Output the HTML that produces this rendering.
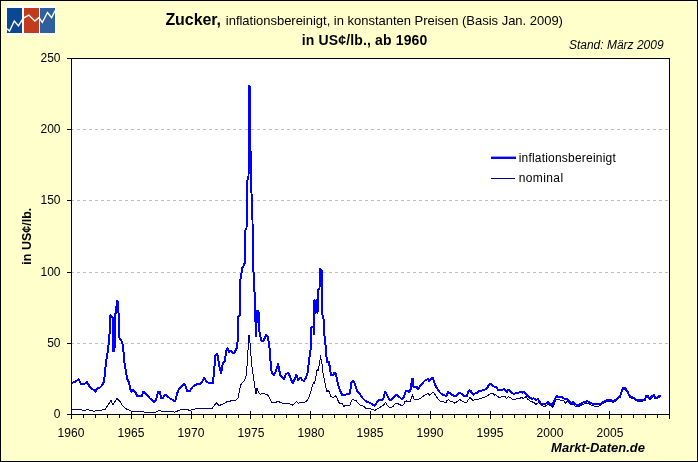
<!DOCTYPE html>
<html><head><meta charset="utf-8"><style>
html,body{margin:0;padding:0;background:#FFFFCC;}
body{width:698px;height:462px;overflow:hidden;font-family:"Liberation Sans", sans-serif;}
svg{display:block;will-change:transform;}
</style></head><body>
<svg width="698" height="462" viewBox="0 0 698 462" font-family='"Liberation Sans", sans-serif'><rect x="0.5" y="0.5" width="697" height="461" fill="#FFFFCC" stroke="#000" stroke-width="1"/>
<rect x="5" y="5" width="51" height="30" fill="#fff"/>
<rect x="7" y="8" width="15" height="25" fill="#0B4893"/>
<rect x="24" y="8" width="15" height="25" fill="#C23B1C"/>
<rect x="40" y="8" width="15" height="25" fill="#2F5F9F"/>
<polyline points="7.2,28.8 9.5,31.1 14.3,21 18.4,25.9 22.9,18.8 24.2,17.7 28.8,15.1 34.8,21 39,17.6 42.3,22.5 47.5,12.5 51.6,17.7 55,10.8" fill="none" stroke="#fff" stroke-width="1.4" stroke-linejoin="miter"/>
<rect x="71.5" y="58.5" width="598" height="356" fill="#fff" stroke="#000" stroke-width="1"/>
<line x1="71" y1="343.5" x2="669" y2="343.5" stroke="#C0C0C0" stroke-width="1" stroke-dasharray="3,3"/>
<line x1="71" y1="272.5" x2="669" y2="272.5" stroke="#C0C0C0" stroke-width="1" stroke-dasharray="3,3"/>
<line x1="71" y1="200.5" x2="669" y2="200.5" stroke="#C0C0C0" stroke-width="1" stroke-dasharray="3,3"/>
<line x1="71" y1="129.5" x2="669" y2="129.5" stroke="#C0C0C0" stroke-width="1" stroke-dasharray="3,3"/>
<line x1="67" y1="414.5" x2="71" y2="414.5" stroke="#000" stroke-width="1"/>
<text x="60.5" y="417.9" text-anchor="end" font-size="12">0</text>
<line x1="67" y1="343.5" x2="71" y2="343.5" stroke="#000" stroke-width="1"/>
<text x="60.5" y="346.9" text-anchor="end" font-size="12">50</text>
<line x1="67" y1="272.5" x2="71" y2="272.5" stroke="#000" stroke-width="1"/>
<text x="60.5" y="275.9" text-anchor="end" font-size="12">100</text>
<line x1="67" y1="200.5" x2="71" y2="200.5" stroke="#000" stroke-width="1"/>
<text x="60.5" y="203.9" text-anchor="end" font-size="12">150</text>
<line x1="67" y1="129.5" x2="71" y2="129.5" stroke="#000" stroke-width="1"/>
<text x="60.5" y="132.9" text-anchor="end" font-size="12">200</text>
<line x1="67" y1="58.5" x2="71" y2="58.5" stroke="#000" stroke-width="1"/>
<text x="60.5" y="61.9" text-anchor="end" font-size="12">250</text>
<line x1="71.5" y1="411" x2="71.5" y2="419" stroke="#000" stroke-width="1"/>
<text x="71.0" y="437" text-anchor="middle" font-size="12" letter-spacing="0.1">1960</text>
<line x1="83.5" y1="414" x2="83.5" y2="418" stroke="#000" stroke-width="1"/>
<line x1="95.5" y1="414" x2="95.5" y2="418" stroke="#000" stroke-width="1"/>
<line x1="107.5" y1="414" x2="107.5" y2="418" stroke="#000" stroke-width="1"/>
<line x1="119.5" y1="414" x2="119.5" y2="418" stroke="#000" stroke-width="1"/>
<line x1="131.5" y1="411" x2="131.5" y2="419" stroke="#000" stroke-width="1"/>
<text x="131.0" y="437" text-anchor="middle" font-size="12" letter-spacing="0.1">1965</text>
<line x1="143.5" y1="414" x2="143.5" y2="418" stroke="#000" stroke-width="1"/>
<line x1="155.5" y1="414" x2="155.5" y2="418" stroke="#000" stroke-width="1"/>
<line x1="167.5" y1="414" x2="167.5" y2="418" stroke="#000" stroke-width="1"/>
<line x1="179.5" y1="414" x2="179.5" y2="418" stroke="#000" stroke-width="1"/>
<line x1="191.5" y1="411" x2="191.5" y2="419" stroke="#000" stroke-width="1"/>
<text x="191.0" y="437" text-anchor="middle" font-size="12" letter-spacing="0.1">1970</text>
<line x1="203.5" y1="414" x2="203.5" y2="418" stroke="#000" stroke-width="1"/>
<line x1="215.5" y1="414" x2="215.5" y2="418" stroke="#000" stroke-width="1"/>
<line x1="226.5" y1="414" x2="226.5" y2="418" stroke="#000" stroke-width="1"/>
<line x1="238.5" y1="414" x2="238.5" y2="418" stroke="#000" stroke-width="1"/>
<line x1="250.5" y1="411" x2="250.5" y2="419" stroke="#000" stroke-width="1"/>
<text x="251.0" y="437" text-anchor="middle" font-size="12" letter-spacing="0.1">1975</text>
<line x1="262.5" y1="414" x2="262.5" y2="418" stroke="#000" stroke-width="1"/>
<line x1="274.5" y1="414" x2="274.5" y2="418" stroke="#000" stroke-width="1"/>
<line x1="286.5" y1="414" x2="286.5" y2="418" stroke="#000" stroke-width="1"/>
<line x1="298.5" y1="414" x2="298.5" y2="418" stroke="#000" stroke-width="1"/>
<line x1="310.5" y1="411" x2="310.5" y2="419" stroke="#000" stroke-width="1"/>
<text x="311.0" y="437" text-anchor="middle" font-size="12" letter-spacing="0.1">1980</text>
<line x1="322.5" y1="414" x2="322.5" y2="418" stroke="#000" stroke-width="1"/>
<line x1="334.5" y1="414" x2="334.5" y2="418" stroke="#000" stroke-width="1"/>
<line x1="346.5" y1="414" x2="346.5" y2="418" stroke="#000" stroke-width="1"/>
<line x1="358.5" y1="414" x2="358.5" y2="418" stroke="#000" stroke-width="1"/>
<line x1="370.5" y1="411" x2="370.5" y2="419" stroke="#000" stroke-width="1"/>
<text x="370.0" y="437" text-anchor="middle" font-size="12" letter-spacing="0.1">1985</text>
<line x1="382.5" y1="414" x2="382.5" y2="418" stroke="#000" stroke-width="1"/>
<line x1="394.5" y1="414" x2="394.5" y2="418" stroke="#000" stroke-width="1"/>
<line x1="406.5" y1="414" x2="406.5" y2="418" stroke="#000" stroke-width="1"/>
<line x1="418.5" y1="414" x2="418.5" y2="418" stroke="#000" stroke-width="1"/>
<line x1="430.5" y1="411" x2="430.5" y2="419" stroke="#000" stroke-width="1"/>
<text x="430.0" y="437" text-anchor="middle" font-size="12" letter-spacing="0.1">1990</text>
<line x1="442.5" y1="414" x2="442.5" y2="418" stroke="#000" stroke-width="1"/>
<line x1="454.5" y1="414" x2="454.5" y2="418" stroke="#000" stroke-width="1"/>
<line x1="466.5" y1="414" x2="466.5" y2="418" stroke="#000" stroke-width="1"/>
<line x1="478.5" y1="414" x2="478.5" y2="418" stroke="#000" stroke-width="1"/>
<line x1="490.5" y1="411" x2="490.5" y2="419" stroke="#000" stroke-width="1"/>
<text x="490.0" y="437" text-anchor="middle" font-size="12" letter-spacing="0.1">1995</text>
<line x1="502.5" y1="414" x2="502.5" y2="418" stroke="#000" stroke-width="1"/>
<line x1="514.5" y1="414" x2="514.5" y2="418" stroke="#000" stroke-width="1"/>
<line x1="525.5" y1="414" x2="525.5" y2="418" stroke="#000" stroke-width="1"/>
<line x1="537.5" y1="414" x2="537.5" y2="418" stroke="#000" stroke-width="1"/>
<line x1="549.5" y1="411" x2="549.5" y2="419" stroke="#000" stroke-width="1"/>
<text x="550.0" y="437" text-anchor="middle" font-size="12" letter-spacing="0.1">2000</text>
<line x1="561.5" y1="414" x2="561.5" y2="418" stroke="#000" stroke-width="1"/>
<line x1="573.5" y1="414" x2="573.5" y2="418" stroke="#000" stroke-width="1"/>
<line x1="585.5" y1="414" x2="585.5" y2="418" stroke="#000" stroke-width="1"/>
<line x1="597.5" y1="414" x2="597.5" y2="418" stroke="#000" stroke-width="1"/>
<line x1="609.5" y1="411" x2="609.5" y2="419" stroke="#000" stroke-width="1"/>
<text x="610.0" y="437" text-anchor="middle" font-size="12" letter-spacing="0.1">2005</text>
<line x1="621.5" y1="414" x2="621.5" y2="418" stroke="#000" stroke-width="1"/>
<line x1="633.5" y1="414" x2="633.5" y2="418" stroke="#000" stroke-width="1"/>
<line x1="645.5" y1="414" x2="645.5" y2="418" stroke="#000" stroke-width="1"/>
<line x1="657.5" y1="414" x2="657.5" y2="418" stroke="#000" stroke-width="1"/>
<line x1="669.5" y1="411" x2="669.5" y2="419" stroke="#000" stroke-width="1"/>
<polyline points="71.0,410.0 79.0,409.6 85.0,410.4 87.0,409.6 94.0,411.2 103.0,409.9 105.0,409.6 108.0,405.0 111.0,400.5 113.0,404.8 117.0,398.4 120.0,401.6 122.0,404.8 126.0,408.8 130.0,410.4 131.0,411.0 135.0,411.0 148.0,412.4 155.0,412.4 160.0,410.3 162.0,411.7 170.0,411.7 175.0,412.1 180.0,410.0 185.0,409.3 190.0,410.3 195.0,408.9 200.0,408.2 212.0,408.5 214.0,406.0 216.5,402.7 219.0,405.5 222.0,404.5 227.0,401.8 231.0,400.9 236.0,400.0 238.0,398.2 239.5,390.0 241.0,384.5 244.0,380.9 246.0,376.4 247.0,366.4 248.0,350.0 249.0,334.6 250.0,343.3 252.0,367.3 254.0,380.8 256.0,394.2 257.0,388.5 258.0,391.3 260.0,394.2 263.0,393.3 266.0,394.2 268.0,395.2 270.0,399.0 272.0,402.9 275.0,402.9 278.0,401.0 281.0,402.9 285.0,403.5 288.0,403.2 291.0,404.3 293.0,405.3 294.5,403.2 296.5,401.6 298.0,403.2 301.0,402.7 304.0,402.4 307.0,400.8 309.0,396.8 311.0,391.2 312.5,385.6 313.5,382.4 314.5,383.2 316.0,376.0 317.0,369.6 318.0,371.2 319.5,364.0 320.5,356.0 322.0,364.0 323.0,372.6 324.5,380.3 326.0,388.0 327.0,391.4 328.0,390.0 329.0,391.4 331.0,396.6 333.0,397.4 336.0,395.7 337.0,398.3 339.0,402.5 340.0,403.9 342.0,403.2 343.5,406.4 346.0,405.4 350.0,405.1 351.5,400.1 353.5,399.5 355.5,400.7 356.5,401.0 358.0,403.2 360.0,405.1 362.5,405.8 364.0,406.7 366.0,408.3 368.0,408.3 369.0,408.0 371.0,409.2 373.5,409.5 375.0,410.5 377.0,408.9 380.0,407.3 381.0,406.4 383.0,405.8 384.5,403.7 385.5,402.6 387.0,404.8 389.0,406.9 391.0,407.4 393.0,406.4 395.0,404.2 396.5,403.2 398.0,403.7 400.0,404.8 402.0,405.8 404.0,404.2 405.0,401.6 406.5,401.0 408.0,402.1 410.0,401.6 411.0,398.9 412.5,394.5 413.5,398.4 415.0,399.5 417.0,398.9 418.0,400.0 420.0,398.5 422.0,397.3 424.0,395.5 426.5,394.2 428.0,393.6 429.5,395.2 431.0,393.8 433.0,392.4 434.5,393.6 436.0,396.3 438.0,398.9 440.0,401.0 442.0,401.0 444.0,402.1 446.0,403.2 447.0,400.5 448.5,399.5 450.0,401.0 452.0,401.6 455.0,403.2 457.0,401.6 460.0,399.5 462.0,401.0 464.0,402.1 467.0,402.1 468.5,399.5 470.0,397.3 471.5,398.9 473.0,400.5 475.0,399.3 477.0,400.0 479.0,398.9 481.0,398.4 484.0,397.3 487.0,396.3 489.0,394.5 491.0,393.4 493.0,393.6 494.0,395.2 495.5,394.5 497.0,395.8 499.0,397.3 501.0,397.0 503.0,396.3 505.0,396.6 506.5,398.4 508.5,396.6 510.0,397.3 512.0,398.9 514.0,399.5 517.0,398.7 520.0,398.4 521.5,397.3 523.0,398.4 525.0,397.7 526.0,396.6 527.5,398.9 530.0,401.0 532.0,401.8 534.0,402.5 536.0,404.3 538.0,402.8 540.0,403.1 542.0,405.8 545.0,406.3 547.0,404.9 549.0,404.6 551.0,406.0 552.5,407.2 554.0,404.9 556.0,399.9 558.0,399.0 560.0,400.2 562.0,400.5 564.0,401.1 565.5,403.1 567.0,401.4 569.0,402.8 571.0,404.8 573.0,404.1 575.0,405.8 577.0,406.9 579.0,406.6 581.0,405.2 583.0,404.4 585.0,403.6 587.0,402.8 589.0,403.9 591.0,405.0 593.0,405.8 595.0,406.2 597.0,406.2 599.0,406.2 601.0,404.6 603.0,403.3 605.0,402.2 607.0,401.2 609.0,401.4 611.0,401.4 613.0,402.2 615.0,401.2 617.0,400.3 618.5,398.5 620.0,397.5 621.0,394.8 622.0,391.1 623.0,389.0 624.5,389.0 626.0,390.6 627.5,392.2 628.5,395.4 630.0,397.4 632.0,398.2 634.0,399.0 636.0,400.6 638.5,401.8 641.0,401.1 643.0,401.1 645.0,400.7 646.0,397.3 647.5,396.9 649.0,399.0 650.0,399.8 651.5,397.7 653.0,396.9 654.0,396.0 655.0,398.5 657.0,399.0 658.5,397.7 660.0,396.9 661.0,396.9" fill="none" stroke="#000080" stroke-width="1" stroke-linejoin="round" shape-rendering="crispEdges"/>
<polyline points="71.0,382.9 74.0,382.4 76.0,381.3 78.7,379.2 81.0,384.0 84.0,384.5 87.0,381.9 89.0,385.6 92.0,388.8 95.5,391.5 97.0,388.8 100.0,387.5 102.0,385.6 104.0,381.5 105.0,372.0 106.0,361.3 107.5,353.5 108.5,345.7 109.5,334.0 110.5,315.5 112.0,316.4 113.0,318.4 113.5,351.5 114.5,348.6 115.0,314.5 116.0,312.5 117.0,300.8 118.0,301.8 118.5,312.5 119.5,337.9 121.0,339.8 122.5,343.7 123.5,351.5 124.5,363.2 125.5,369.0 126.5,375.0 127.5,379.5 129.0,382.6 130.5,389.5 131.5,391.6 133.0,390.2 135.0,391.6 137.0,395.7 139.0,396.4 142.0,396.4 143.0,391.6 145.0,393.0 147.0,395.0 150.0,398.5 154.0,402.0 156.0,400.6 158.0,391.6 160.0,391.6 161.0,398.5 163.0,397.8 165.0,395.0 167.0,395.7 170.0,398.5 173.0,399.9 175.0,401.6 177.0,394.4 178.0,390.9 181.0,386.7 183.0,384.7 184.5,384.0 186.0,387.4 187.0,390.9 189.0,390.9 190.0,390.9 193.0,386.4 197.0,384.2 201.0,383.6 204.0,378.2 207.0,381.8 210.0,383.6 213.0,382.7 214.0,371.8 215.5,355.5 217.0,353.6 218.0,357.3 219.0,364.5 221.0,373.6 223.0,362.7 225.0,360.9 226.0,351.8 227.5,348.2 229.0,351.8 231.0,350.9 233.0,353.6 235.0,351.8 237.0,347.3 238.0,337.3 238.5,316.2 239.7,315.0 240.0,280.0 241.0,278.4 242.0,268.0 244.0,265.5 245.0,261.4 245.5,229.7 246.5,228.0 246.8,210.0 247.5,179.6 248.5,178.6 249.0,85.5 250.0,86.5 250.2,150.0 251.2,154.0 251.5,193.4 252.5,220.0 252.7,263.8 254.0,277.6 254.8,300.0 255.3,315.6 256.0,336.4 257.0,310.4 258.5,311.3 259.0,329.4 261.0,339.8 263.0,341.6 265.0,337.2 266.0,334.6 268.0,337.2 269.0,344.2 270.0,352.0 271.0,369.3 272.5,373.6 274.0,375.3 276.0,371.0 278.0,364.1 279.0,367.5 280.0,375.3 282.0,377.0 284.0,378.8 286.0,373.6 287.5,373.5 288.5,372.8 290.0,376.8 292.0,381.9 293.0,383.2 295.0,378.4 296.0,375.2 297.0,376.0 298.0,380.0 299.5,378.4 301.0,377.6 302.0,380.0 304.0,380.8 306.0,377.6 307.5,373.6 309.0,360.8 310.5,350.0 311.0,346.5 311.5,327.0 313.5,327.5 314.0,334.6 314.5,300.0 315.5,313.0 316.5,300.0 317.5,313.0 318.2,290.0 319.5,288.0 319.8,269.0 321.5,270.0 322.0,282.0 322.3,314.0 323.5,318.9 324.0,331.4 325.0,340.5 326.0,350.0 326.5,357.2 327.5,362.4 329.0,361.5 330.0,369.2 331.0,375.2 333.0,375.2 334.5,372.6 336.0,373.5 337.0,379.5 338.5,386.3 340.0,390.7 342.5,395.4 346.0,394.4 349.5,393.8 350.5,388.8 351.5,382.0 353.0,381.2 354.5,383.0 357.0,390.7 360.0,394.4 363.0,398.5 366.0,401.4 369.0,402.6 372.0,403.9 374.5,405.8 376.0,404.5 377.0,401.4 380.0,399.8 381.0,399.5 382.5,400.0 384.0,396.8 385.0,392.0 386.0,393.1 387.5,395.8 389.0,398.9 390.0,400.5 392.0,398.9 394.0,396.8 396.0,394.7 397.0,395.2 399.0,396.8 401.0,398.4 402.0,398.9 404.0,396.8 405.0,393.6 406.0,390.5 407.5,391.0 409.0,392.0 410.0,391.5 411.0,387.8 412.0,378.8 413.0,379.3 413.5,387.3 415.0,387.3 417.0,387.3 418.0,389.4 419.0,387.8 420.5,385.1 422.0,384.4 424.0,381.4 426.0,379.8 428.0,379.3 429.0,380.9 430.5,379.8 432.0,378.3 433.0,378.3 434.0,381.4 435.5,385.7 437.0,388.3 439.0,391.0 440.0,392.6 442.0,394.2 444.0,395.2 446.0,395.8 447.0,394.7 448.0,392.0 449.5,392.8 451.0,394.2 453.0,395.2 455.0,396.3 457.0,395.2 458.5,393.6 460.0,392.6 462.0,394.2 464.0,395.8 466.0,396.6 467.0,395.8 468.0,392.6 469.5,390.2 471.0,391.0 472.0,393.6 473.5,394.7 475.0,393.5 477.0,392.7 479.5,391.0 482.0,390.5 485.0,389.6 487.0,388.3 488.5,385.7 490.0,384.1 491.5,384.3 493.0,386.2 495.0,386.7 497.0,387.5 498.0,390.2 500.0,390.5 502.0,389.9 504.0,389.2 505.5,391.0 507.0,392.0 508.0,389.9 510.0,390.5 511.5,392.8 513.0,393.6 515.0,393.6 517.0,393.1 519.0,392.6 521.0,391.7 522.5,392.6 524.0,392.0 525.5,393.1 527.0,395.2 529.0,396.6 530.5,398.1 532.0,398.7 534.0,398.4 536.0,400.0 538.0,398.9 539.5,401.6 541.0,403.7 543.0,404.2 545.0,404.2 546.5,403.0 548.0,402.1 549.5,403.4 551.0,404.4 552.5,404.8 554.0,401.6 555.0,398.9 556.5,396.3 558.0,396.6 560.0,396.6 562.0,396.8 563.5,398.1 565.0,399.5 567.0,399.1 569.0,401.0 571.0,403.0 573.0,402.3 575.0,404.0 577.0,405.1 579.0,404.8 581.0,403.4 583.0,402.6 585.0,401.8 587.0,401.0 589.0,402.1 591.0,403.2 593.0,404.0 595.0,404.4 597.0,404.4 599.0,404.4 601.0,403.4 603.0,402.1 605.0,401.0 607.0,400.0 609.0,400.2 611.0,400.2 613.0,401.0 615.0,400.0 617.0,399.1 618.5,397.3 620.0,396.3 621.0,393.6 622.0,389.9 623.0,387.8 624.5,387.8 626.0,389.4 627.5,391.0 628.5,394.2 630.0,396.2 632.0,397.0 634.0,397.8 636.0,399.4 638.5,400.6 641.0,399.9 643.0,399.9 645.0,399.5 646.0,396.1 647.5,395.7 649.0,397.8 650.0,398.6 651.5,396.5 653.0,395.7 654.0,394.8 655.0,397.3 657.0,397.8 658.5,396.5 660.0,395.7 661.0,395.7" fill="none" stroke="#0000FF" stroke-width="2" stroke-linejoin="round" shape-rendering="crispEdges"/>
<line x1="71.5" y1="58" x2="71.5" y2="415" stroke="#000" stroke-width="1"/>
<line x1="71" y1="414.5" x2="670" y2="414.5" stroke="#000" stroke-width="1"/>
<line x1="491" y1="157.8" x2="516" y2="157.8" stroke="#0000FF" stroke-width="2.4"/>
<line x1="491" y1="178.5" x2="515" y2="178.5" stroke="#000080" stroke-width="1"/>
<text x="165.4" y="24.8" font-size="16" font-weight="bold" font-style="normal" letter-spacing="-0.064">Zucker,</text>
<text x="225.8" y="24.8" font-size="13" font-weight="normal" font-style="normal" letter-spacing="-0.018">inflationsbereinigt, in konstanten Preisen (Basis Jan. 2009)</text>
<text x="301.8" y="45.2" font-size="14" font-weight="bold" font-style="normal" letter-spacing="0.142">in US¢/lb., ab 1960</text>
<text x="568.9" y="48.9" font-size="12" font-weight="normal" font-style="italic">Stand: März 2009</text>
<text x="551.1" y="451.5" font-size="13" font-weight="bold" font-style="italic">Markt-Daten.de</text>
<text x="518.7" y="161.9" font-size="12" font-weight="normal" font-style="normal" letter-spacing="0.202">inflationsbereinigt</text>
<text x="518.7" y="181.6" font-size="12" font-weight="normal" font-style="normal" letter-spacing="0.39">nominal</text>
<text transform="translate(31,236.2) rotate(-90)" text-anchor="middle" font-size="12.5" font-weight="bold">in US¢/lb.</text></svg>
</body></html>
